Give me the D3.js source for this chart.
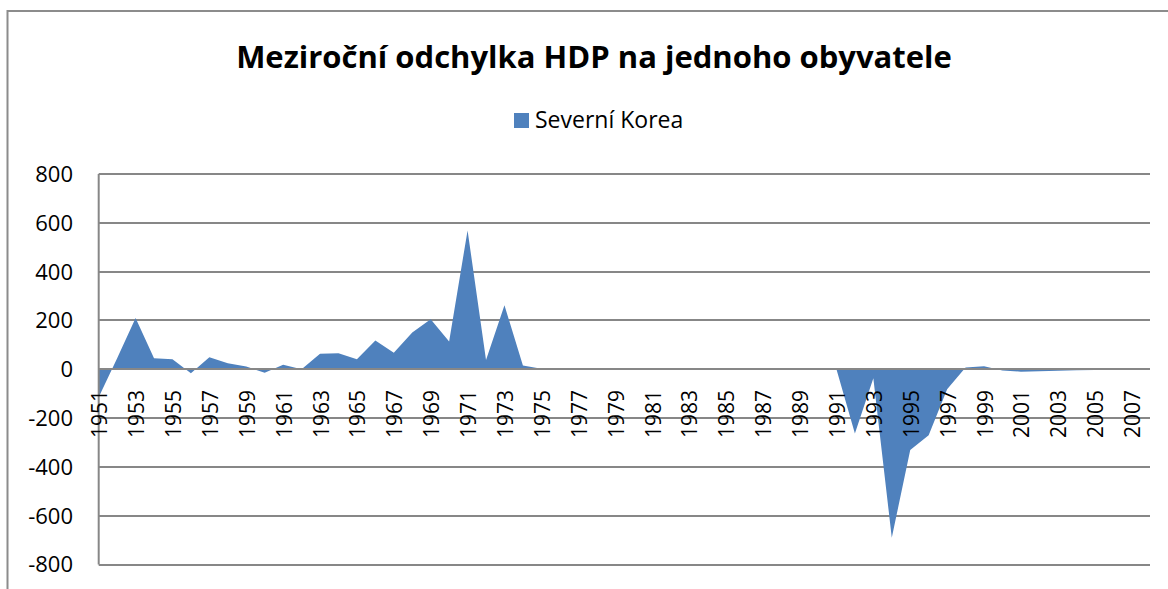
<!DOCTYPE html>
<html>
<head>
<meta charset="utf-8">
<script src="https://cdn.jsdelivr.net/npm/d3@7"></script>
<style>
  body { margin: 0; background: #fff; }
  svg { display: block; font-family: "Open Sans", sans-serif; }
</style>
</head>
<body>
<svg id="chart" width="1168" height="589"></svg>
<script>
// Data
const years = d3.range(1951, 2009);
const values = [
  -115, 45, 210, 45, 41, -16, 49, 25, 11, -14,
  18, 0, 63, 66, 41, 118, 68, 151, 205, 114,
  569, 38, 262, 15, 2, 0, 0, 0, 0, 0,
  0, 0, 0, 0, 0, 0, 0, 0, 0, 0,
  0, -263, -37, -690, -331, -270, -82, 7, 12, -5,
  -10, -8, -6, -4, -3, -2, -1, 0
];
const yTicks = [-800, -600, -400, -200, 0, 200, 400, 600, 800];
const xLabels = years.filter((d, i) => i % 2 === 0);
const seriesName = "Severní Korea";
const title = "Meziroční odchylka HDP na jednoho obyvatele";

const data = years.map((d, i) => ({ year: d, value: values[i] }));

// Layout
let plotLeft = 98.7,
  plotRight = 1150,
  plotTop = 174,
  plotBottom = 564.5,
  gridColor = "#878787",
  fillColor = "#4F81BD";

const svg = d3.select("#chart");

// Outer chart frame (runs off the picture to the right and bottom)
svg.append("rect")
  .attr("x", 7.5)
  .attr("y", 11)
  .attr("width", 1200)
  .attr("height", 620)
  .attr("fill", "#fff")
  .attr("stroke", "#8c8c8c")
  .attr("stroke-width", 2);

var xScale = d3.scalePoint().domain(years).range([plotLeft, plotRight]);
var yScale = d3.scaleLinear().domain([-800, 800]).range([plotBottom, plotTop]);

// Horizontal gridlines
svg.append("g")
  .selectAll("line")
  .data(yTicks)
  .join("line")
  .attr("x1", plotLeft)
  .attr("x2", plotRight)
  .attr("y1", d => Math.round(yScale(d)))
  .attr("y2", d => Math.round(yScale(d)))
  .attr("stroke", gridColor)
  .attr("stroke-width", 2);

// Area
let area = d3.area()
  .x(d => xScale(d.year))
  .y0(yScale(0))
  .y1(d => yScale(d.value));

svg.append("path")
  .datum(data)
  .attr("fill", fillColor)
  .attr("d", area);

// Value axis line
svg.append("line")
  .attr("x1", plotLeft)
  .attr("x2", plotLeft)
  .attr("y1", plotTop)
  .attr("y2", plotBottom)
  .attr("stroke", gridColor)
  .attr("stroke-width", 2);

// Category axis line at zero
svg.append("line")
  .attr("x1", plotLeft)
  .attr("x2", plotRight)
  .attr("y1", Math.round(yScale(0)))
  .attr("y2", Math.round(yScale(0)))
  .attr("stroke", gridColor)
  .attr("stroke-width", 2);

// Y tick labels
svg.append("g")
  .selectAll("text")
  .data(yTicks)
  .join("text")
  .attr("x", 73)
  .attr("y", d => yScale(d))
  .attr("text-anchor", "end")
  .attr("dy", "0.36em")
  .style("font-size", "22px")
  .style("fill", "#000")
  .text(d => d);

// X tick labels (rotated, hanging below the zero line)
svg.append("g")
  .selectAll("text")
  .data(xLabels)
  .join("text")
  .attr("transform", d => "translate(" + (xScale(d) + 1) + ",390) rotate(-90)")
  .attr("text-anchor", "end")
  .attr("dy", "0.36em")
  .style("font-size", "21px")
  .style("fill", "#000")
  .text(d => d);

// Title
svg.append("text")
  .attr("x", 594)
  .attr("y", 68)
  .attr("text-anchor", "middle")
  .style("font-size", "31px")
  .style("font-weight", "bold")
  .style("fill", "#000")
  .text(title);

// Legend
svg.append("rect")
  .attr("x", 514)
  .attr("y", 113)
  .attr("width", 15)
  .attr("height", 15)
  .attr("fill", fillColor);

svg.append("text")
  .attr("x", 535)
  .attr("y", 128)
  .style("font-size", "23px")
  .style("fill", "#000")
  .text(seriesName);
</script>
</body>
</html>
